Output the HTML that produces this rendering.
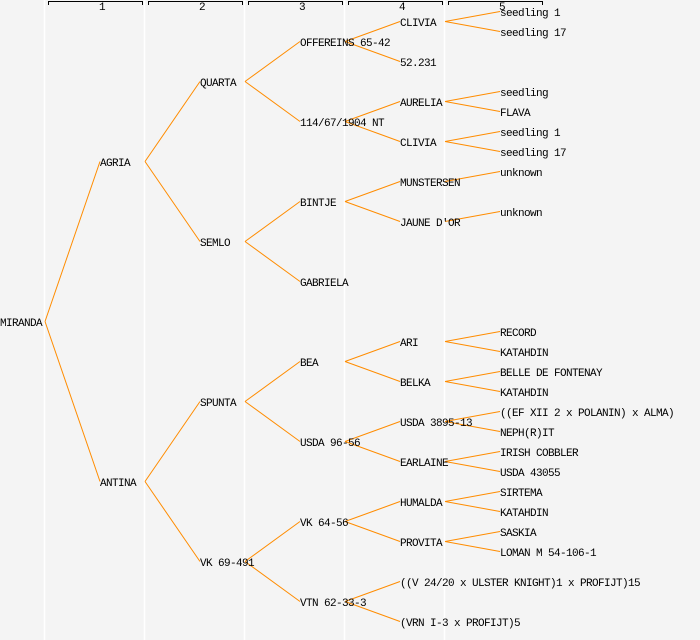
<!DOCTYPE html><html><head><style>body{margin:0;background:#f4f4f4}svg{display:block}text{font-family:"Liberation Mono",monospace;font-size:11px;letter-spacing:-0.6px;fill:#000}</style></head><body>
<svg width="700" height="640" xmlns="http://www.w3.org/2000/svg">
<rect width="700" height="640" fill="#f4f4f4"/>
<g stroke="#fff" stroke-width="1.5"><line x1="44.5" y1="0" x2="44.5" y2="640"/><line x1="144.5" y1="0" x2="144.5" y2="640"/><line x1="244.5" y1="0" x2="244.5" y2="640"/><line x1="344.5" y1="0" x2="344.5" y2="640"/><line x1="444.5" y1="0" x2="444.5" y2="640"/></g>
<g stroke="#000" fill="none" stroke-width="1">
<path d="M48.5 5V1.5H142.5V5"/><path d="M148.5 5V1.5H242.5V5"/><path d="M248.5 5V1.5H342.5V5"/><path d="M348.5 5V1.5H442.5V5"/><path d="M448.5 5V1.5H542.5V5"/></g>
<g style="font-size:8px;letter-spacing:0" text-anchor="middle"><text x="102" y="10">1</text><text x="202" y="10">2</text><text x="302" y="10">3</text><text x="402" y="10">4</text><text x="502" y="10">5</text></g>
<path stroke="#ff8c00" stroke-width="1" fill="none" d="
M45 321.5L100 161.5M45 321.5L100 481.5
M145 161.5L200 81.5M145 161.5L200 241.5
M145 481.5L200 401.5M145 481.5L200 561.5
M245 81.5L300 41.5M245 81.5L300 121.5
M245 241.5L300 201.5M245 241.5L300 281.5
M245 401.5L300 361.5M245 401.5L300 441.5
M245 561.5L300 521.5M245 561.5L300 601.5
M345 41.5L400 21.5M345 41.5L400 61.5
M345 121.5L400 101.5M345 121.5L400 141.5
M345 201.5L400 181.5M345 201.5L400 221.5
M345 361.5L400 341.5M345 361.5L400 381.5
M345 441.5L400 421.5M345 441.5L400 461.5
M345 521.5L400 501.5M345 521.5L400 541.5
M345 601.5L400 581.5M345 601.5L400 621.5
M445 21.5L500 11.5M445 21.5L500 31.5
M445 101.5L500 91.5M445 101.5L500 111.5
M445 141.5L500 131.5M445 141.5L500 151.5
M445 181.5L500 171.5
M445 221.5L500 211.5
M445 341.5L500 331.5M445 341.5L500 351.5
M445 381.5L500 371.5M445 381.5L500 391.5
M445 421.5L500 411.5M445 421.5L500 431.5
M445 461.5L500 451.5M445 461.5L500 471.5
M445 501.5L500 491.5M445 501.5L500 511.5
M445 541.5L500 531.5M445 541.5L500 551.5"/>
<g>
<text x="0" y="326">MIRANDA</text>
<text x="100" y="166">AGRIA</text>
<text x="100" y="486">ANTINA</text>
<text x="200" y="86">QUARTA</text>
<text x="200" y="246">SEMLO</text>
<text x="200" y="406">SPUNTA</text>
<text x="200" y="566">VK 69-491</text>
<text x="300" y="46">OFFEREINS 65-42</text>
<text x="300" y="126">114/67/1904 NT</text>
<text x="300" y="206">BINTJE</text>
<text x="300" y="286">GABRIELA</text>
<text x="300" y="366">BEA</text>
<text x="300" y="446">USDA 96-56</text>
<text x="300" y="526">VK 64-56</text>
<text x="300" y="606">VTN 62-33-3</text>
<text x="400" y="26">CLIVIA</text>
<text x="400" y="66">52.231</text>
<text x="400" y="106">AURELIA</text>
<text x="400" y="146">CLIVIA</text>
<text x="400" y="186">MUNSTERSEN</text>
<text x="400" y="226">JAUNE D'OR</text>
<text x="400" y="346">ARI</text>
<text x="400" y="386">BELKA</text>
<text x="400" y="426">USDA 3895-13</text>
<text x="400" y="466">EARLAINE</text>
<text x="400" y="506">HUMALDA</text>
<text x="400" y="546">PROVITA</text>
<text x="400" y="586">((V 24/20 x ULSTER KNIGHT)1 x PROFIJT)15</text>
<text x="400" y="626">(VRN I-3 x PROFIJT)5</text>
<text x="500" y="16">seedling 1</text>
<text x="500" y="36">seedling 17</text>
<text x="500" y="96">seedling</text>
<text x="500" y="116">FLAVA</text>
<text x="500" y="136">seedling 1</text>
<text x="500" y="156">seedling 17</text>
<text x="500" y="176">unknown</text>
<text x="500" y="216">unknown</text>
<text x="500" y="336">RECORD</text>
<text x="500" y="356">KATAHDIN</text>
<text x="500" y="376">BELLE DE FONTENAY</text>
<text x="500" y="396">KATAHDIN</text>
<text x="500" y="416">((EF XII 2 x POLANIN) x ALMA)</text>
<text x="500" y="436">NEPH(R)IT</text>
<text x="500" y="456">IRISH COBBLER</text>
<text x="500" y="476">USDA 43055</text>
<text x="500" y="496">SIRTEMA</text>
<text x="500" y="516">KATAHDIN</text>
<text x="500" y="536">SASKIA</text>
<text x="500" y="556">LOMAN M 54-106-1</text>
</g>
</svg></body></html>
